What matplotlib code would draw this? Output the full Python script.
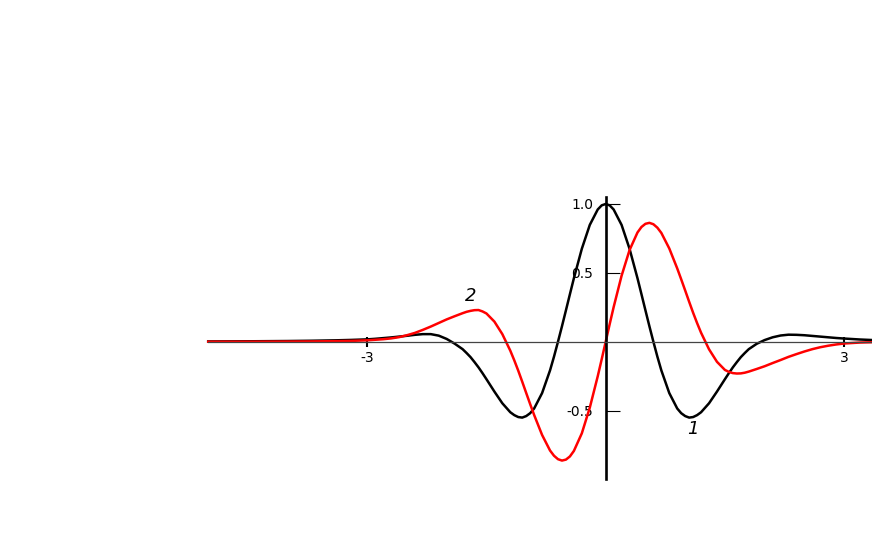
import matplotlib.pyplot as plt

# sample positions along the horizontal axis
x = [-5.0, -4.5, -4.0, -3.7, -3.4, -3.2,
     -3.0, -2.9, -2.8, -2.7, -2.6, -2.5, -2.4, -2.3, -2.2, -2.1,
     -2.0, -1.9, -1.8, -1.75, -1.7, -1.65, -1.6, -1.55, -1.5, -1.4,
     -1.3, -1.2, -1.15, -1.1, -1.05, -1.0, -0.95, -0.9, -0.8, -0.7,
     -0.65, -0.6, -0.55, -0.5, -0.45, -0.4, -0.3, -0.2, -0.1, -0.05,
     0.0,
     0.05, 0.1, 0.2, 0.3, 0.4, 0.45, 0.5, 0.55, 0.6, 0.65,
     0.7, 0.8, 0.9, 0.95, 1.0, 1.05, 1.1, 1.15, 1.2, 1.3,
     1.4, 1.5, 1.55, 1.6, 1.65, 1.7, 1.75, 1.8, 1.9, 2.0,
     2.1, 2.2, 2.3, 2.4, 2.5, 2.6, 2.7, 2.8, 2.9, 3.0,
     3.2, 3.4]

# curve 1 (black)
curve1 = [0.002, 0.003, 0.005, 0.007, 0.010, 0.013,
          0.017, 0.021, 0.026, 0.031, 0.037, 0.043, 0.050, 0.055, 0.055, 0.044,
          0.020, -0.014, -0.054, -0.082, -0.112, -0.148, -0.186, -0.228, -0.272, -0.362,
          -0.447, -0.512, -0.533, -0.547, -0.551, -0.540, -0.519, -0.485, -0.373, -0.208,
          -0.108, 0.000, 0.112, 0.228, 0.345, 0.461, 0.675, 0.848, 0.960, 0.990,
          1.000,
          0.990, 0.960, 0.848, 0.675, 0.461, 0.345, 0.228, 0.112, 0.000, -0.108,
          -0.208, -0.373, -0.485, -0.519, -0.540, -0.551, -0.547, -0.533, -0.512, -0.447,
          -0.362, -0.272, -0.228, -0.186, -0.148, -0.112, -0.082, -0.054, -0.015, 0.012,
          0.032, 0.045, 0.051, 0.050, 0.047, 0.042, 0.037, 0.032, 0.027, 0.023,
          0.016, 0.011]

# curve 2 (red)
curve2 = [0.000, 0.000, 0.001, 0.002, 0.004, 0.006,
          0.010, 0.014, 0.018, 0.024, 0.033, 0.047, 0.064, 0.086, 0.110, 0.136,
          0.162, 0.185, 0.207, 0.217, 0.224, 0.229, 0.230, 0.220, 0.205, 0.146,
          0.055, -0.065, -0.135, -0.210, -0.290, -0.372, -0.453, -0.532, -0.677, -0.790,
          -0.828, -0.853, -0.863, -0.856, -0.833, -0.793, -0.665, -0.479, -0.251, -0.127,
          0.000,
          0.127, 0.251, 0.479, 0.665, 0.793, 0.833, 0.856, 0.863, 0.853, 0.828,
          0.790, 0.677, 0.532, 0.453, 0.372, 0.290, 0.210, 0.135, 0.065, -0.055,
          -0.146, -0.205, -0.219, -0.228, -0.231, -0.230, -0.225, -0.217, -0.198, -0.178,
          -0.155, -0.133, -0.110, -0.090, -0.071, -0.054, -0.040, -0.029, -0.020, -0.013,
          -0.006, -0.003]

xticks = [-3, 3]
xtick_labels = ['-3', '3']
yticks = [-0.5, 0.5, 1.0]
ytick_labels = ['-0.5', '0.5', '1.0']

fig = plt.figure(figsize=(8.72, 5.45), dpi=100)
ax = fig.add_axes([0, 0, 1, 1])

ax.plot(x, curve1, color='black', lw=1.8, solid_joinstyle='round')
ax.plot(x, curve2, color='red', lw=1.8, solid_joinstyle='round')

ax.set_xlim(-7.619, 3.35)
ax.set_ylim(-1.476, 2.481)

# axes through the origin
for side in ['top', 'right']:
    ax.spines[side].set_visible(False)
ax.spines['left'].set_position(('data', 0))
ax.spines['left'].set_bounds(-1.0, 1.05)
ax.spines['left'].set_linewidth(1.9)
ax.spines['bottom'].set_position(('data', 0))
ax.spines['bottom'].set_bounds(-5.0, 3.35)
ax.spines['bottom'].set_linewidth(0.9)
ax.spines['bottom'].set_color('#444444')

ax.set_xticks(xticks)
ax.set_xticklabels(xtick_labels)
ax.set_yticks(yticks)
ax.set_yticklabels(ytick_labels)
ax.tick_params(axis='x', direction='inout', length=7.5, width=1.5,
               color='black', pad=3, labelsize=10)
ax.tick_params(axis='y', direction='in', length=10, width=0.8,
               color='black', pad=9, labelsize=10)

ax.text(-1.694, 0.335, '2', style='italic', fontsize=13,
        ha='center', va='center')
ax.text(1.098, -0.634, '1', style='italic', fontsize=13,
        ha='center', va='center')

fig.savefig('out.png', dpi=100)
